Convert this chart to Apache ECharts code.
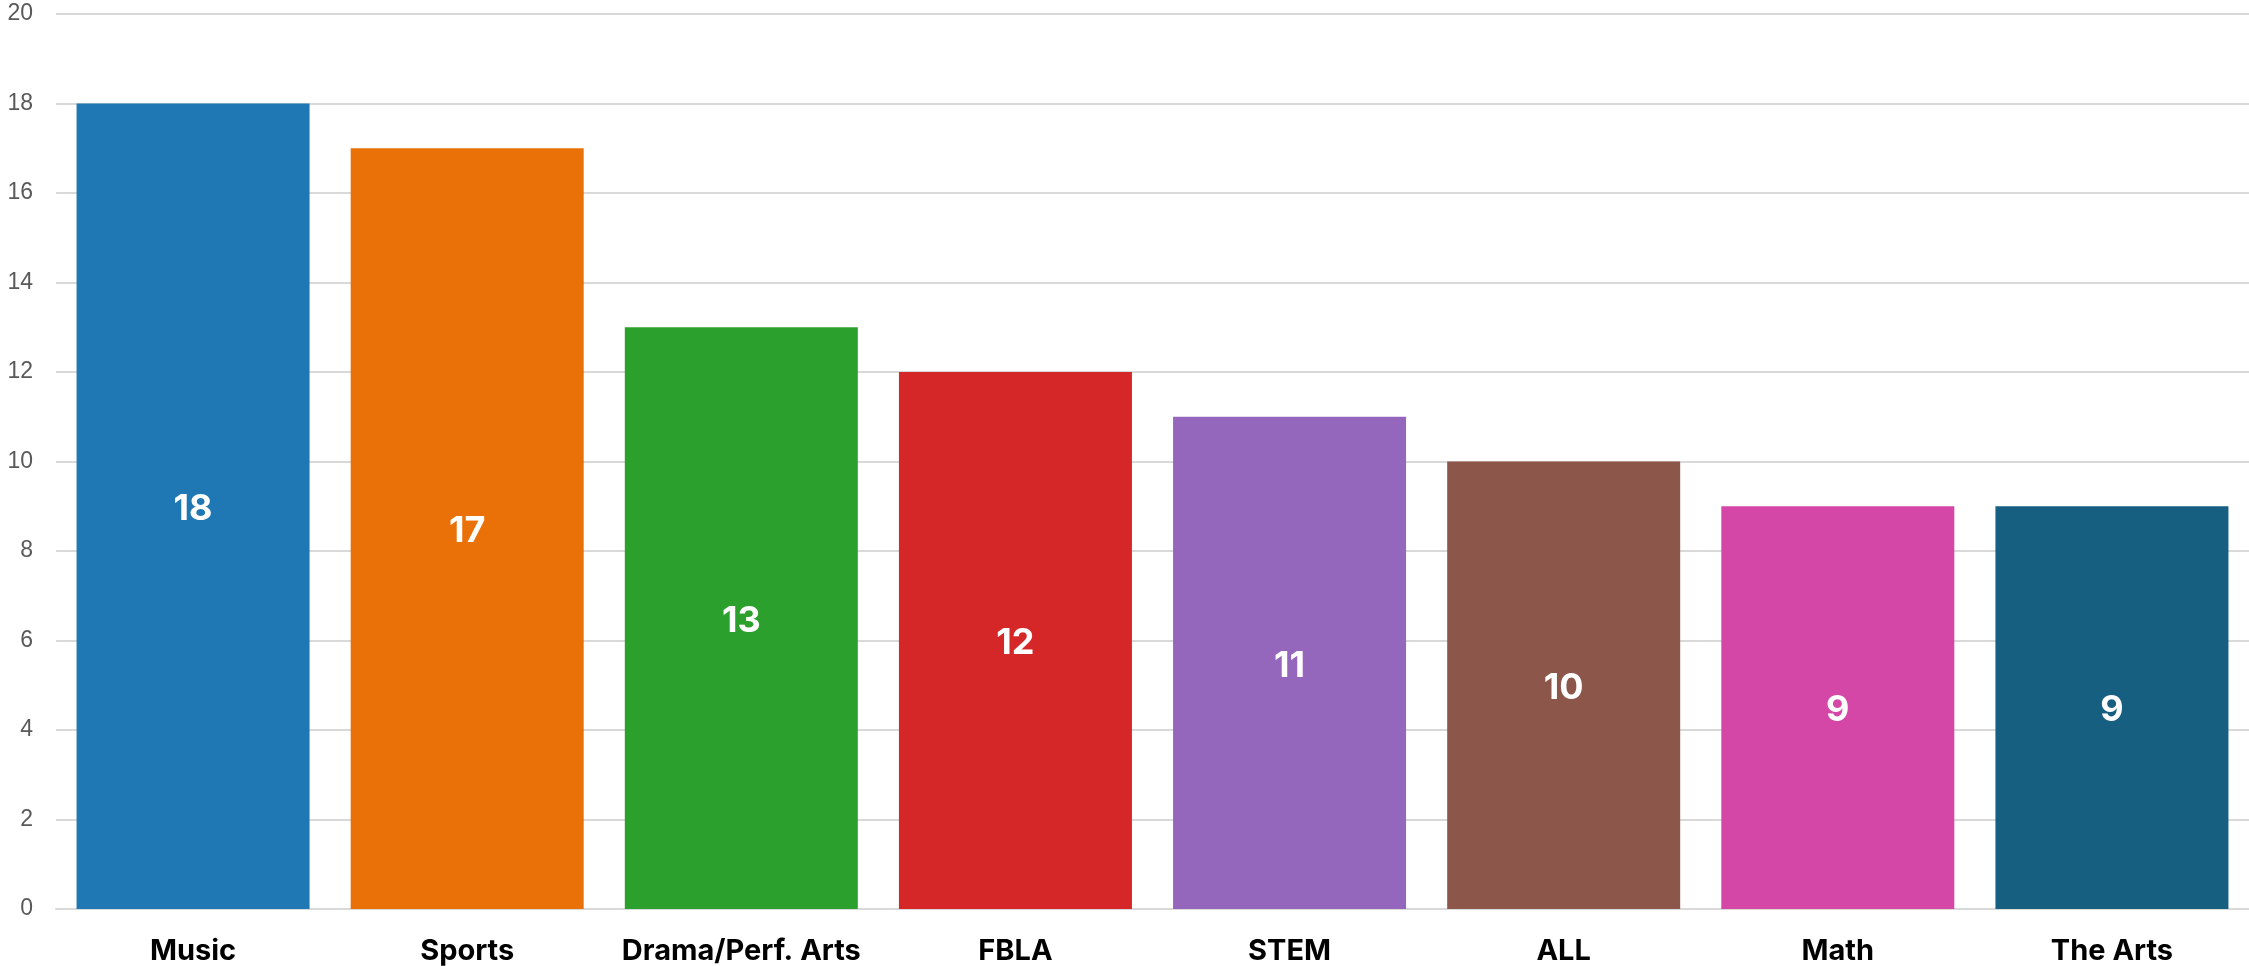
<!DOCTYPE html>
<html>
<head>
<meta charset="utf-8">
<script src="https://cdn.jsdelivr.net/npm/echarts@6/dist/echarts.min.js"></script>
<style>
  html, body { margin: 0; padding: 0; background: #fff; }
  #chart { width: 2249px; height: 966px; }
</style>
</head>
<body>
<div id="chart"></div>
<script>
const categories = ['Music', 'Sports', 'Drama/Perf. Arts', 'FBLA', 'STEM', 'ALL', 'Math', 'The Arts']
const counts = [18, 17, 13, 12, 11, 10, 9, 9]
const barColors = ['#1f77b4', '#ea7107', '#2ca02c', '#d62728', '#9467bd', '#8c564b', '#d447a7', '#165f80']

const chart = echarts.init(document.getElementById('chart'))

chart.setOption({
  animation: false,
  grid: { left: 56, right: 0, top: 14, bottom: 57, containLabel: false },
  xAxis: {
    type: 'category',
    data: categories,
    axisTick: { show: false },
    axisLine: { lineStyle: { color: '#d9d9d9', width: 2 } },
    axisLabel: {
      color: '#000',
      fontFamily: 'Inter, Liberation Sans, sans-serif',
      fontWeight: 'bold',
      fontSize: 29,
      margin: 28,
      interval: 0,
    },
  },
  yAxis: {
    type: 'value',
    min: 0,
    max: 20,
    interval: 2,
    axisLine: { show: false },
    axisTick: { show: false },
    axisLabel: {
      color: '#595959',
      fontFamily: 'Liberation Sans, Arial, sans-serif',
      fontSize: 23,
      margin: 23,
    },
    splitLine: { lineStyle: { color: '#d9d9d9', width: 2 } },
  },
  series: [{
    type: 'bar',
    data: counts.map((v, i) => ({ value: v, itemStyle: { color: barColors[i] } })),
    barCategoryGap: '15%',
    label: {
      show: true,
      position: 'inside',
      offset: [0, 3],
      color: '#fff',
      fontFamily: 'Inter, Liberation Sans, sans-serif',
      fontWeight: 'bold',
      fontSize: 36,
    },
  }],
})
</script>
</body>
</html>
